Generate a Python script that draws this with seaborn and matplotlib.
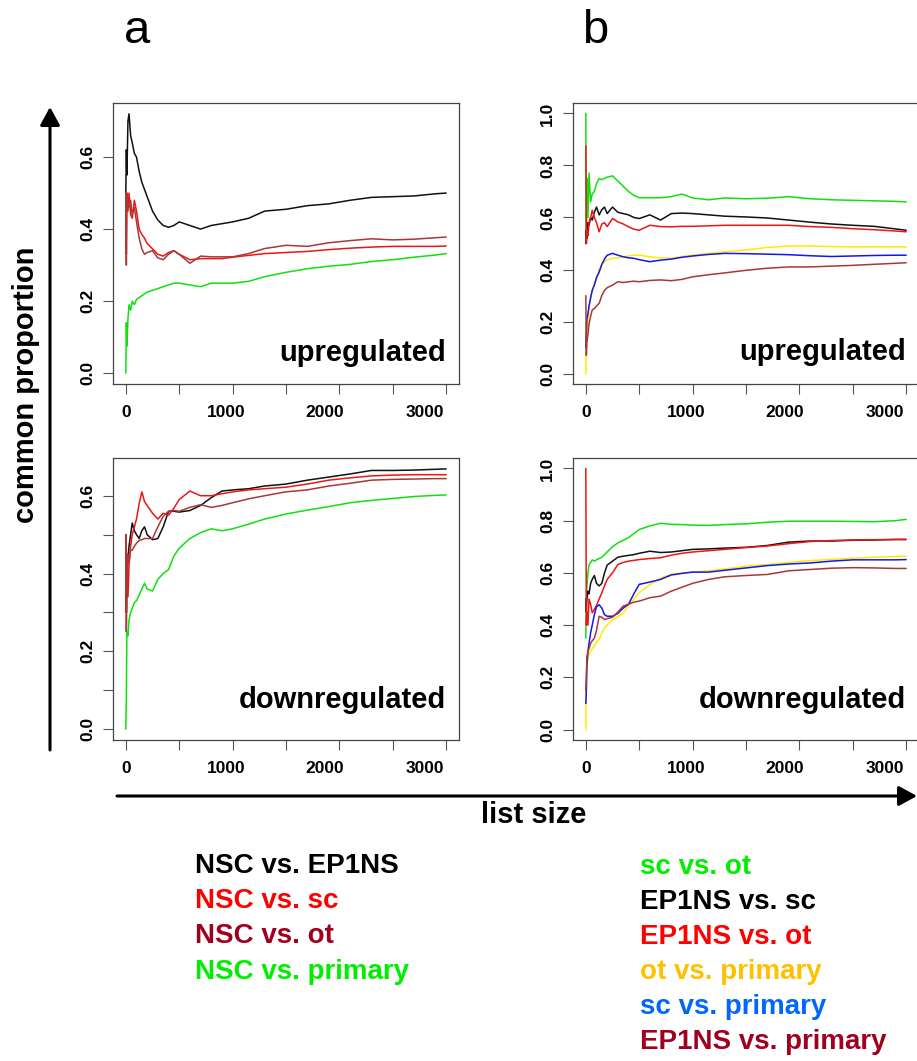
import matplotlib
matplotlib.use("Agg")
import matplotlib.pyplot as plt
import matplotlib.transforms as mtransforms
from matplotlib.patches import FancyArrowPatch
import numpy as np
import pandas as pd
import seaborn as sns

# ---------------- data ----------------
list_size = [0, 5, 10, 20, 30, 45, 60, 80, 100, 125, 150, 175, 200, 250, 300, 350,
             400, 450, 500, 600, 700, 800, 900, 1000, 1150, 1300, 1500, 1700, 1900,
             2100, 2300, 2500, 2700, 2900, 3000]

# panel a, upregulated
a_up_nsc_ep1ns = [0.5, 0.62, 0.55, 0.70, 0.72, 0.66, 0.64, 0.61, 0.60, 0.56, 0.53, 0.51, 0.49, 0.45, 0.425, 0.41,
                  0.405, 0.41, 0.42, 0.41, 0.40, 0.41, 0.415, 0.42, 0.43, 0.45, 0.455, 0.465, 0.47,
                  0.48, 0.488, 0.49, 0.492, 0.498, 0.5]
a_up_nsc_sc = [0.5, 0.33, 0.5, 0.45, 0.5, 0.44, 0.43, 0.48, 0.45, 0.40, 0.385, 0.375, 0.36, 0.345, 0.33, 0.325,
               0.335, 0.34, 0.33, 0.315, 0.318, 0.318, 0.318, 0.322, 0.327, 0.332, 0.335, 0.338, 0.343,
               0.347, 0.35, 0.352, 0.352, 0.352, 0.353]
a_up_nsc_ot = [0.5, 0.3, 0.5, 0.47, 0.46, 0.48, 0.44, 0.46, 0.42, 0.375, 0.345, 0.33, 0.335, 0.34, 0.32, 0.315,
               0.33, 0.34, 0.33, 0.305, 0.325, 0.323, 0.323, 0.323, 0.332, 0.346, 0.355, 0.352, 0.362,
               0.368, 0.373, 0.37, 0.372, 0.376, 0.378]
a_up_nsc_primary = [0.0, 0.14, 0.075, 0.15, 0.19, 0.175, 0.2, 0.19, 0.205, 0.21, 0.215, 0.22, 0.225, 0.23, 0.235, 0.24,
                    0.245, 0.25, 0.25, 0.245, 0.24, 0.25, 0.25, 0.25, 0.255, 0.268, 0.28, 0.29, 0.297,
                    0.302, 0.31, 0.315, 0.322, 0.328, 0.332]

# panel a, downregulated
a_down_nsc_ep1ns = [0.5, 0.3, 0.4, 0.44, 0.47, 0.5, 0.53, 0.51, 0.5, 0.49, 0.51, 0.52, 0.5, 0.487, 0.49, 0.52,
                    0.56, 0.56, 0.558, 0.562, 0.575, 0.595, 0.612, 0.615, 0.618, 0.625, 0.63, 0.64, 0.648,
                    0.656, 0.665, 0.665, 0.666, 0.668, 0.669]
a_down_nsc_sc = [0.5, 0.3, 0.45, 0.34, 0.42, 0.47, 0.5, 0.52, 0.54, 0.58, 0.61, 0.585, 0.575, 0.555, 0.54, 0.555,
                 0.55, 0.568, 0.59, 0.612, 0.6, 0.6, 0.605, 0.61, 0.615, 0.618, 0.622, 0.63, 0.64,
                 0.646, 0.651, 0.653, 0.654, 0.654, 0.654]
a_down_nsc_ot = [0.5, 0.25, 0.35, 0.45, 0.43, 0.46, 0.46, 0.47, 0.478, 0.485, 0.487, 0.49, 0.49, 0.49, 0.52, 0.547,
                 0.56, 0.562, 0.56, 0.57, 0.577, 0.57, 0.575, 0.582, 0.592, 0.6, 0.61, 0.615, 0.625,
                 0.632, 0.64, 0.642, 0.643, 0.644, 0.644]
a_down_nsc_primary = [0.0, 0.08, 0.25, 0.24, 0.28, 0.3, 0.31, 0.325, 0.33, 0.345, 0.36, 0.375, 0.36, 0.355, 0.385, 0.4,
                      0.41, 0.445, 0.465, 0.49, 0.505, 0.515, 0.51, 0.515, 0.527, 0.54, 0.553, 0.563, 0.572,
                      0.582, 0.588, 0.593, 0.598, 0.601, 0.602]

# panel b, upregulated
b_up_sc_ot = [1.0, 0.5, 0.75, 0.6, 0.77, 0.66, 0.69, 0.7, 0.73, 0.75, 0.745, 0.75, 0.755, 0.76, 0.74, 0.72,
              0.7, 0.685, 0.676, 0.676, 0.676, 0.68, 0.69, 0.675, 0.668, 0.675, 0.672, 0.674, 0.68,
              0.672, 0.668, 0.666, 0.664, 0.662, 0.66]
b_up_ep1ns_sc = [0.5, 0.55, 0.52, 0.58, 0.57, 0.6, 0.59, 0.62, 0.64, 0.61, 0.63, 0.64, 0.615, 0.64, 0.62, 0.615,
                 0.61, 0.6, 0.596, 0.61, 0.59, 0.615, 0.617, 0.615, 0.61, 0.605, 0.602, 0.598, 0.59,
                 0.582, 0.575, 0.57, 0.566, 0.556, 0.551]
b_up_ep1ns_ot = [0.875, 0.5, 0.55, 0.53, 0.58, 0.6, 0.628, 0.6, 0.58, 0.545, 0.575, 0.58, 0.565, 0.596, 0.583, 0.575,
                 0.564, 0.555, 0.551, 0.57, 0.565, 0.564, 0.566, 0.566, 0.568, 0.57, 0.57, 0.57, 0.57,
                 0.565, 0.562, 0.557, 0.553, 0.548, 0.545]
b_up_ot_primary = [0.0, 0.2, 0.12, 0.19, 0.25, 0.3, 0.32, 0.35, 0.36, 0.4, 0.42, 0.43, 0.436, 0.443, 0.445, 0.449,
                   0.452, 0.455, 0.455, 0.449, 0.445, 0.443, 0.45, 0.455, 0.462, 0.468, 0.475, 0.485, 0.49,
                   0.49, 0.488, 0.487, 0.487, 0.487, 0.487]
b_up_sc_primary = [0.1, 0.15, 0.21, 0.23, 0.26, 0.29, 0.32, 0.34, 0.37, 0.39, 0.42, 0.44, 0.455, 0.462, 0.455, 0.449,
                   0.445, 0.443, 0.438, 0.43, 0.436, 0.44, 0.447, 0.452, 0.458, 0.462, 0.461, 0.459, 0.457,
                   0.453, 0.45, 0.452, 0.454, 0.455, 0.455]
b_up_ep1ns_primary = [0.3, 0.07, 0.12, 0.15, 0.19, 0.22, 0.245, 0.25, 0.26, 0.27, 0.3, 0.32, 0.33, 0.34, 0.353, 0.35,
                      0.353, 0.355, 0.353, 0.358, 0.36, 0.357, 0.362, 0.372, 0.38, 0.387, 0.397, 0.405, 0.41,
                      0.41, 0.413, 0.416, 0.42, 0.424, 0.426]

# panel b, downregulated
b_down_sc_ot = [0.35, 0.5, 0.55, 0.6, 0.63, 0.64, 0.65, 0.645, 0.65, 0.655, 0.66, 0.67, 0.68, 0.7, 0.715, 0.725,
                0.735, 0.75, 0.766, 0.78, 0.79, 0.786, 0.785, 0.783, 0.782, 0.785, 0.788, 0.794, 0.798,
                0.798, 0.798, 0.797, 0.796, 0.8, 0.805]
b_down_ep1ns_sc = [0.5, 0.45, 0.5, 0.53, 0.52, 0.56, 0.575, 0.59, 0.56, 0.55, 0.56, 0.6, 0.63, 0.645, 0.66, 0.664,
                   0.667, 0.67, 0.675, 0.683, 0.678, 0.68, 0.685, 0.69, 0.692, 0.695, 0.698, 0.705, 0.718,
                   0.722, 0.722, 0.725, 0.726, 0.728, 0.728]
b_down_ep1ns_ot = [1.0, 0.4, 0.45, 0.4, 0.5, 0.48, 0.447, 0.46, 0.475, 0.5, 0.524, 0.55, 0.575, 0.6, 0.632, 0.64,
                   0.645, 0.648, 0.651, 0.655, 0.658, 0.668, 0.675, 0.68, 0.685, 0.69, 0.697, 0.703, 0.712,
                   0.72, 0.724, 0.726, 0.727, 0.728, 0.728]
b_down_ot_primary = [0.0, 0.2, 0.24, 0.27, 0.29, 0.3, 0.31, 0.32, 0.335, 0.345, 0.37, 0.39, 0.4, 0.42, 0.432, 0.445,
                     0.475, 0.5, 0.524, 0.555, 0.58, 0.595, 0.6, 0.603, 0.608, 0.615, 0.626, 0.632, 0.64,
                     0.647, 0.652, 0.656, 0.66, 0.663, 0.664]
b_down_sc_primary = [0.1, 0.15, 0.25, 0.3, 0.33, 0.37, 0.4, 0.44, 0.47, 0.478, 0.465, 0.44, 0.434, 0.434, 0.445, 0.465,
                     0.48, 0.52, 0.556, 0.565, 0.575, 0.592, 0.598, 0.603, 0.603, 0.61, 0.619, 0.628, 0.634,
                     0.638, 0.645, 0.65, 0.65, 0.65, 0.651]
b_down_ep1ns_primary = [0.15, 0.2, 0.28, 0.3, 0.31, 0.33, 0.34, 0.35, 0.38, 0.434, 0.43, 0.421, 0.425, 0.43, 0.45, 0.473,
                        0.48, 0.488, 0.492, 0.505, 0.511, 0.53, 0.545, 0.56, 0.575, 0.585, 0.59, 0.594, 0.608,
                        0.613, 0.618, 0.62, 0.619, 0.617, 0.617]

comparisons_a = ["NSC vs. EP1NS", "NSC vs. sc", "NSC vs. ot", "NSC vs. primary"]
comparisons_b = ["sc vs. ot", "EP1NS vs. sc", "EP1NS vs. ot", "ot vs. primary",
                 "sc vs. primary", "EP1NS vs. primary"]
x_tick_values = [0, 500, 1000, 1500, 2000, 2500, 3000]
x_label_texts = ["0", "1000", "2000", "3000"]
# in the reference the tick labels sit slightly left of their ticks (progressively)
x_label_positions = [0, 938, 1862, 2798]

# ---------------- style ----------------
sns.set_style("ticks")
plt.rcParams["font.family"] = ["Liberation Sans", "DejaVu Sans"]
plt.rcParams["text.color"] = "black"
plt.rcParams["xtick.labelcolor"] = "black"
plt.rcParams["ytick.labelcolor"] = "black"

line_colors = {
    "NSC vs. EP1NS": "#111111", "NSC vs. sc": "#EE1515", "NSC vs. ot": "#A83838",
    "NSC vs. primary": "#10E010",
    "sc vs. ot": "#10E010", "EP1NS vs. sc": "#111111", "EP1NS vs. ot": "#EE1515",
    "ot vs. primary": "#FFEA00", "sc vs. primary": "#1515EE", "EP1NS vs. primary": "#A83838",
}
legend_colors = {
    "NSC vs. EP1NS": "#000000", "NSC vs. sc": "#FF0000", "NSC vs. ot": "#A0001E",
    "NSC vs. primary": "#00EE00",
    "sc vs. ot": "#00EE00", "EP1NS vs. sc": "#000000", "EP1NS vs. ot": "#FF0000",
    "ot vs. primary": "#FFC000", "sc vs. primary": "#0066FF", "EP1NS vs. primary": "#A0001E",
}

W, H = 917, 1061
fig = plt.figure(figsize=(W / 100, H / 100), dpi=100)


def box(left, top, right, bottom):
    return [left / W, 1 - bottom / H, (right - left) / W, (bottom - top) / H]


def panel(rect, names, series, ylim, yticks, ylabels, label, label_y):
    ax = fig.add_axes(rect)
    frames = []
    for name, vals in zip(names, series):
        frames.append(pd.DataFrame({"list size": list_size, "proportion": vals, "comparison": name}))
    df = pd.concat(frames, ignore_index=True)
    sns.lineplot(data=df, x="list size", y="proportion", hue="comparison", hue_order=names,
                 palette={n: line_colors[n] for n in names}, estimator=None, sort=False,
                 legend=False, linewidth=1.1, ax=ax)
    ax.set_xlim(-120, 3120)
    ax.set_ylim(*ylim)
    ax.set_xlabel("")
    ax.set_ylabel("")
    ax.xaxis.remove_overlapping_locs = False
    # visible tick marks (no labels)
    ax.set_xticks(x_tick_values)
    ax.set_xticklabels([""] * len(x_tick_values))
    # labels carried by zero-length minor ticks
    ax.set_xticks(x_label_positions, minor=True)
    ax.set_xticklabels(x_label_texts, minor=True, fontsize=12.5, fontweight="bold", color="black")
    ax.tick_params(axis="x", which="minor", length=0, pad=15)
    ax.tick_params(axis="x", which="major", length=7, width=0.8, color="#555555")
    ax.set_yticks(yticks)
    ax.set_yticklabels(ylabels, fontsize=12.5, fontweight="bold", rotation=90, va="center", color="black")
    ax.tick_params(axis="y", length=7, width=0.8, color="#555555", pad=6)
    for s in ax.spines.values():
        s.set_visible(True)
        s.set_color("#444444")
        s.set_linewidth(0.9)
    trans = mtransforms.blended_transform_factory(ax.transData, ax.transAxes)
    ax.text(3000, label_y, label, transform=trans, ha="right", va="baseline",
            fontsize=21, fontweight="bold", color="black")
    return ax


ya_up = [0.0, 0.2, 0.4, 0.6]
panel(box(113, 103, 459, 384), comparisons_a,
      [a_up_nsc_ep1ns, a_up_nsc_sc, a_up_nsc_ot, a_up_nsc_primary],
      (-0.030, 0.750), ya_up, ["0.0", "0.2", "0.4", "0.6"], "upregulated", 0.082)

ya_down = [0.0, 0.1, 0.2, 0.3, 0.4, 0.5, 0.6]
panel(box(113, 458, 459, 740), comparisons_a,
      [a_down_nsc_ep1ns, a_down_nsc_sc, a_down_nsc_ot, a_down_nsc_primary],
      (-0.028, 0.697), ya_down, ["0.0", "", "0.2", "", "0.4", "", "0.6"], "downregulated", 0.113)

yb = [0.0, 0.2, 0.4, 0.6, 0.8, 1.0]
yb_labels = ["0.0", "0.2", "0.4", "0.6", "0.8", "1.0"]
panel(box(573, 103, 919, 384), comparisons_b,
      [b_up_sc_ot, b_up_ep1ns_sc, b_up_ep1ns_ot, b_up_ot_primary, b_up_sc_primary, b_up_ep1ns_primary],
      (-0.04, 1.04), yb, yb_labels, "upregulated", 0.085)

panel(box(573, 458, 919, 740), comparisons_b,
      [b_down_sc_ot, b_down_ep1ns_sc, b_down_ep1ns_ot, b_down_ot_primary, b_down_sc_primary,
       b_down_ep1ns_primary],
      (-0.04, 1.04), yb, yb_labels, "downregulated", 0.113)

# panel letters
fig.text(137 / W, 1 - 43 / H, "a", fontsize=34, ha="center", va="baseline", color="black")
fig.text(595 / W, 1 - 43 / H, "b", fontsize=34, ha="center", va="baseline", color="black")

# axis arrows and labels
arrow_style = "-|>,head_length=0.55,head_width=0.3"
fig.add_artist(FancyArrowPatch((50 / W, 1 - 750 / H), (50 / W, 1 - 107 / H), transform=fig.transFigure,
                               arrowstyle=arrow_style, mutation_scale=20, lw=2.2, color="black",
                               shrinkA=0, shrinkB=0))
fig.add_artist(FancyArrowPatch((117 / W, 1 - 796 / H), (917 / W, 1 - 796 / H), transform=fig.transFigure,
                               arrowstyle=arrow_style, mutation_scale=20, lw=2.2, color="black",
                               shrinkA=0, shrinkB=0))
fig.text(26 / W, 1 - 385 / H, "common proportion", rotation=90, fontsize=21, fontweight="bold",
         ha="center", va="center", color="black")
fig.text(534 / W, 1 - 815 / H, "list size", fontsize=21, fontweight="bold", ha="center", va="center",
         color="black")

# colour-coded legend
for i, name in enumerate(comparisons_a):
    fig.text(195 / W, 1 - (866 + 35.2 * i) / H, name, fontsize=20, fontweight="bold",
             color=legend_colors[name], ha="left", va="center")
for i, name in enumerate(comparisons_b):
    fig.text(640 / W, 1 - (867 + 35 * i) / H, name, fontsize=20, fontweight="bold",
             color=legend_colors[name], ha="left", va="center")

fig.savefig("out.png", dpi=100)
